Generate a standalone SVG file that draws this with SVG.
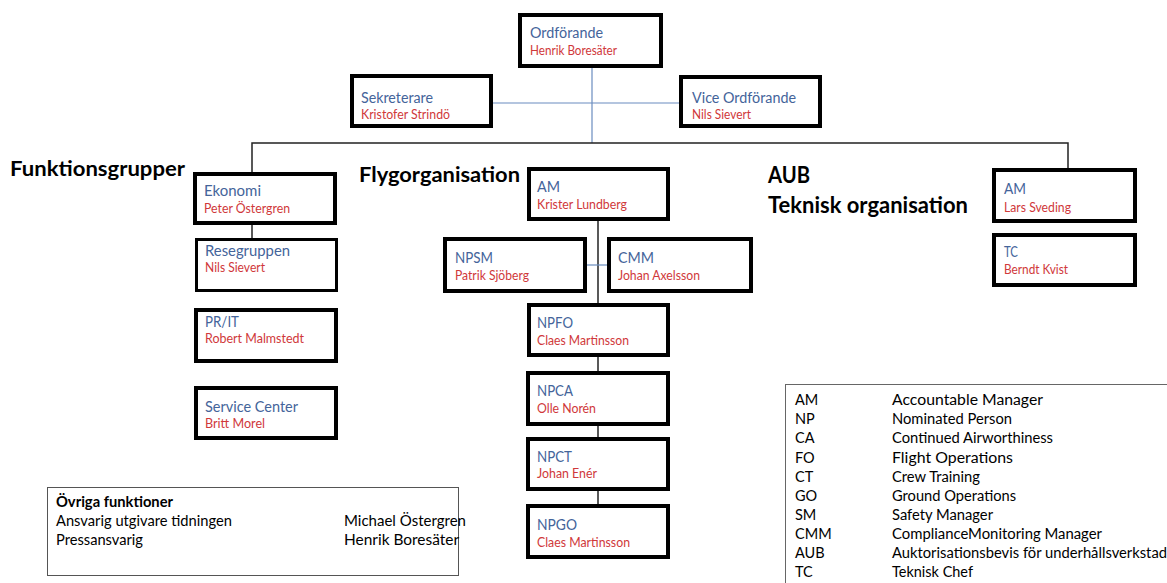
<svg xmlns="http://www.w3.org/2000/svg" width="1167" height="583" viewBox="0 0 1167 583">
<style>
text{font-family:Lato,"Open Sans","Liberation Sans",sans-serif}
.box{fill:#fff;stroke:#000;stroke-width:4}
.thin{stroke-width:3}
.t{font-size:15.5px;fill:#44649a}
.n{font-size:12.5px;fill:#d0383a}
.h{font-size:20px;font-weight:bold;fill:#000}
.h2{font-size:22px;font-weight:bold;fill:#000}
.o{font-size:15px;fill:#000}
.ob{font-size:15px;font-weight:bold;fill:#000}
.l{font-size:14.5px;fill:#000}
.cb{stroke:#6a8cbf;stroke-width:1.2;fill:none}
.ck{stroke:#222;stroke-width:1.5;fill:none}
</style>
<rect width="1167" height="583" fill="#fff"/>
<g id="connectors">
<line class="cb" x1="592" y1="68" x2="592" y2="143"/>
<line class="cb" x1="493" y1="103" x2="679" y2="103"/>
<polyline class="ck" points="252,172 252,143 1068,143 1068,168"/>
<line class="ck" x1="252" y1="225" x2="252" y2="238"/>
<line class="ck" x1="598" y1="221" x2="598" y2="303"/>
<line class="cb" x1="587" y1="265" x2="607" y2="265"/>
<line class="ck" x1="598" y1="357" x2="598" y2="371"/>
<line class="ck" x1="598" y1="426" x2="598" y2="437"/>
<line class="ck" x1="598" y1="491" x2="598" y2="504"/>
</g>
<g id="headings">
<text class="h" x="10" y="176" textLength="175" lengthAdjust="spacingAndGlyphs">Funktionsgrupper</text>
<text class="h" x="359" y="182" textLength="161" lengthAdjust="spacingAndGlyphs">Flygorganisation</text>
<text class="h2" x="768" y="183" textLength="42" lengthAdjust="spacingAndGlyphs">AUB</text>
<text class="h2" x="768" y="213" textLength="200" lengthAdjust="spacingAndGlyphs">Teknisk organisation</text>
</g>
<g id="ordforande">
<rect class="box" x="520" y="15" width="141" height="51"/>
<text class="t" x="530" y="38" textLength="73" lengthAdjust="spacingAndGlyphs">Ordförande</text>
<text class="n" x="530" y="55" textLength="87" lengthAdjust="spacingAndGlyphs">Henrik Boresäter</text>
</g>
<g id="sekreterare">
<rect class="box" x="352" y="76" width="139" height="50"/>
<text class="t" x="361" y="103" textLength="72" lengthAdjust="spacingAndGlyphs">Sekreterare</text>
<text class="n" x="361" y="119" textLength="89" lengthAdjust="spacingAndGlyphs">Kristofer Strindö</text>
</g>
<g id="vice">
<rect class="box" x="681" y="77" width="139" height="49"/>
<text class="t" x="692" y="103" textLength="104" lengthAdjust="spacingAndGlyphs">Vice Ordförande</text>
<text class="n" x="692" y="119" textLength="59" lengthAdjust="spacingAndGlyphs">Nils Sievert</text>
</g>
<g id="ekonomi">
<rect class="box" x="195" y="174" width="140" height="49"/>
<text class="t" x="204" y="196" textLength="57" lengthAdjust="spacingAndGlyphs">Ekonomi</text>
<text class="n" x="204" y="213" textLength="86" lengthAdjust="spacingAndGlyphs">Peter Östergren</text>
</g>
<g id="resegruppen">
<rect class="box thin" x="196.5" y="239.5" width="140" height="51"/>
<text class="t" x="205" y="256" textLength="85" lengthAdjust="spacingAndGlyphs">Resegruppen</text>
<text class="n" x="205" y="272" textLength="60" lengthAdjust="spacingAndGlyphs">Nils Sievert</text>
</g>
<g id="prit">
<rect class="box" x="196" y="310" width="140" height="51"/>
<text class="t" x="205" y="327" textLength="34" lengthAdjust="spacingAndGlyphs">PR/IT</text>
<text class="n" x="205" y="343" textLength="99" lengthAdjust="spacingAndGlyphs">Robert Malmstedt</text>
</g>
<g id="servicecenter">
<rect class="box" x="196" y="388" width="140" height="50"/>
<text class="t" x="205" y="412" textLength="93" lengthAdjust="spacingAndGlyphs">Service Center</text>
<text class="n" x="205" y="428" textLength="60" lengthAdjust="spacingAndGlyphs">Britt Morel</text>
</g>
<g id="am-fly">
<rect class="box" x="529" y="169" width="139" height="50"/>
<text class="t" x="537" y="192" textLength="23" lengthAdjust="spacingAndGlyphs">AM</text>
<text class="n" x="537" y="209" textLength="90" lengthAdjust="spacingAndGlyphs">Krister Lundberg</text>
</g>
<g id="npsm">
<rect class="box" x="445" y="239" width="140" height="52"/>
<text class="t" x="455" y="263" textLength="38" lengthAdjust="spacingAndGlyphs">NPSM</text>
<text class="n" x="455" y="280" textLength="74" lengthAdjust="spacingAndGlyphs">Patrik Sjöberg</text>
</g>
<g id="cmm">
<rect class="box" x="609" y="239" width="142" height="52"/>
<text class="t" x="618" y="263" textLength="36" lengthAdjust="spacingAndGlyphs">CMM</text>
<text class="n" x="618" y="280" textLength="82" lengthAdjust="spacingAndGlyphs">Johan Axelsson</text>
</g>
<g id="npfo">
<rect class="box" x="529" y="305" width="139" height="50"/>
<text class="t" x="537" y="328" textLength="36" lengthAdjust="spacingAndGlyphs">NPFO</text>
<text class="n" x="537" y="345" textLength="92" lengthAdjust="spacingAndGlyphs">Claes Martinsson</text>
</g>
<g id="npca">
<rect class="box" x="528" y="373" width="140" height="51"/>
<text class="t" x="537" y="396" textLength="36" lengthAdjust="spacingAndGlyphs">NPCA</text>
<text class="n" x="537" y="413" textLength="59" lengthAdjust="spacingAndGlyphs">Olle Norén</text>
</g>
<g id="npct">
<rect class="box" x="528" y="439" width="140" height="50"/>
<text class="t" x="537" y="462" textLength="35" lengthAdjust="spacingAndGlyphs">NPCT</text>
<text class="n" x="537" y="478" textLength="60" lengthAdjust="spacingAndGlyphs">Johan Enér</text>
</g>
<g id="npgo">
<rect class="box" x="528" y="506" width="140" height="51"/>
<text class="t" x="537" y="530" textLength="40" lengthAdjust="spacingAndGlyphs">NPGO</text>
<text class="n" x="537" y="547" textLength="93" lengthAdjust="spacingAndGlyphs">Claes Martinsson</text>
</g>
<g id="am-aub">
<rect class="box" x="994" y="170" width="141" height="51"/>
<text class="t" x="1004" y="194" textLength="22" lengthAdjust="spacingAndGlyphs">AM</text>
<text class="n" x="1004" y="212" textLength="67" lengthAdjust="spacingAndGlyphs">Lars Sveding</text>
</g>
<g id="tc">
<rect class="box" x="994" y="235" width="141" height="50"/>
<text class="t" x="1004" y="257" textLength="14" lengthAdjust="spacingAndGlyphs">TC</text>
<text class="n" x="1004" y="274" textLength="64" lengthAdjust="spacingAndGlyphs">Berndt Kvist</text>
</g>
<g id="ovriga">
<rect x="47.5" y="487.5" width="411" height="88" fill="#fff" stroke="#555" stroke-width="1"/>
<text class="ob" x="56" y="507" textLength="117" lengthAdjust="spacingAndGlyphs">Övriga funktioner</text>
<text class="o" x="56" y="526" textLength="176" lengthAdjust="spacingAndGlyphs">Ansvarig utgivare tidningen</text>
<text class="o" x="56" y="545" textLength="87" lengthAdjust="spacingAndGlyphs">Pressansvarig</text>
<text class="o" x="344" y="526" textLength="122" lengthAdjust="spacingAndGlyphs">Michael Östergren</text>
<text class="o" x="344" y="545" textLength="115" lengthAdjust="spacingAndGlyphs">Henrik Boresäter</text>
</g>
<g id="legend">
<rect x="785.5" y="384.5" width="400" height="220" fill="#fff" stroke="#666" stroke-width="1"/>
<text class="l" x="795" y="405">AM</text><text class="l" x="892" y="405" textLength="151" lengthAdjust="spacingAndGlyphs">Accountable Manager</text>
<text class="l" x="795" y="424">NP</text><text class="l" x="892" y="424" textLength="120" lengthAdjust="spacingAndGlyphs">Nominated Person</text>
<text class="l" x="795" y="443">CA</text><text class="l" x="892" y="443" textLength="161" lengthAdjust="spacingAndGlyphs">Continued Airworthiness</text>
<text class="l" x="795" y="463">FO</text><text class="l" x="892" y="463" textLength="121" lengthAdjust="spacingAndGlyphs">Flight Operations</text>
<text class="l" x="795" y="482">CT</text><text class="l" x="892" y="482" textLength="88" lengthAdjust="spacingAndGlyphs">Crew Training</text>
<text class="l" x="795" y="501">GO</text><text class="l" x="892" y="501" textLength="124" lengthAdjust="spacingAndGlyphs">Ground Operations</text>
<text class="l" x="795" y="520">SM</text><text class="l" x="892" y="520" textLength="101" lengthAdjust="spacingAndGlyphs">Safety Manager</text>
<text class="l" x="795" y="539">CMM</text><text class="l" x="892" y="539" textLength="210" lengthAdjust="spacingAndGlyphs">ComplianceMonitoring Manager</text>
<text class="l" x="795" y="558">AUB</text><text class="l" x="892" y="558" textLength="275" lengthAdjust="spacingAndGlyphs">Auktorisationsbevis för underhållsverkstad</text>
<text class="l" x="795" y="577">TC</text><text class="l" x="892" y="577" textLength="81" lengthAdjust="spacingAndGlyphs">Teknisk Chef</text>
</g>
</svg>
